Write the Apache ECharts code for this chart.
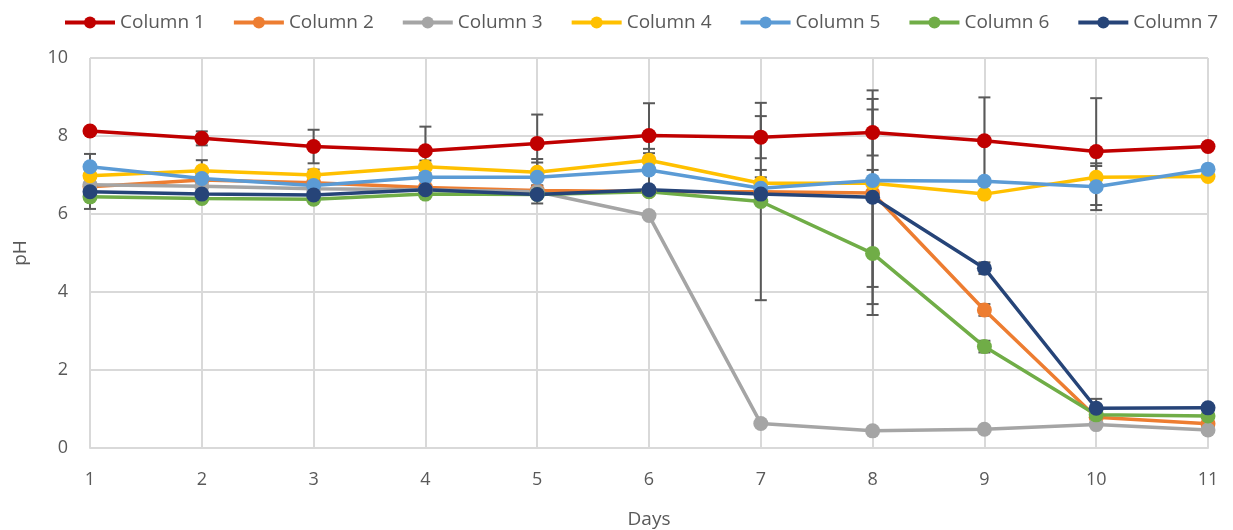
<!DOCTYPE html>
<html>
<head>
<meta charset="utf-8">
<script src="https://cdn.jsdelivr.net/npm/echarts@6/dist/echarts.min.js"></script>
<style>
  html, body { margin: 0; padding: 0; background: #fff; }
  #chart { width: 1233px; height: 530px; }
</style>
</head>
<body>
<div id="chart"></div>
<script>
// Sampling days
const days = [1, 2, 3, 4, 5, 6, 7, 8, 9, 10, 11];

// Series names and colours
const seriesNames = ['Column 1', 'Column 2', 'Column 3', 'Column 4', 'Column 5', 'Column 6', 'Column 7'];
const seriesColors = ['#C00000', '#ED7D31', '#A5A5A5', '#FFC000', '#5B9BD5', '#70AD47', '#264478'];

// Mean pH per day
const col1 = [8.13, 7.94, 7.73, 7.62, 7.81, 8.01, 7.97, 8.09, 7.88, 7.60, 7.73];
const col2 = [6.70, 6.87, 6.80, 6.68, 6.60, 6.58, 6.57, 6.54, 3.54, 0.79, 0.62];
const col3 = [6.75, 6.71, 6.65, 6.62, 6.57, 5.96, 0.63, 0.44, 0.48, 0.60, 0.46];
const col4 = [6.98, 7.11, 7.00, 7.21, 7.07, 7.38, 6.79, 6.79, 6.51, 6.94, 6.96];
const col5 = [7.21, 6.91, 6.73, 6.94, 6.94, 7.13, 6.66, 6.86, 6.84, 6.70, 7.15];
const col6 = [6.44, 6.40, 6.38, 6.51, 6.50, 6.57, 6.32, 4.99, 2.60, 0.85, 0.82];
const col7 = [6.57, 6.51, 6.49, 6.62, 6.50, 6.62, 6.51, 6.43, 4.61, 1.02, 1.03];

// Error bar half-widths (null = no bar)
const err1 = [null, 0.18, 0.43, 0.62, 0.74, 0.83, 0.54, 0.59, 1.11, 1.37, null];
const err2 = [null, null, null, null, null, null, null, 2.41, 0.15, null, null];
const err3 = [null, null, null, null, null, null, null, null, null, null, null];
const err4 = [null, 0.27, 0.14, 0.16, 0.34, 0.29, 0.34, 0.34, null, 0.29, null];
const err5 = [0.33, null, null, null, 0.38, 0.43, 0.28, null, null, 0.60, null];
const err6 = [0.31, null, null, null, null, null, 2.53, 1.58, 0.15, null, null];
const err7 = [null, null, null, null, 0.23, null, null, 2.74, 0.15, 0.24, null];

// Axis ticks
const yTicks = { min: 0, max: 10, interval: 2 };
const xTicks = { min: 1, max: 11, interval: 1 };

const means = [col1, col2, col3, col4, col5, col6, col7];
const errs = [err1, err2, err3, err4, err5, err6, err7];

const FONT = 'Open Sans';
const TEXT = '#595959';

const series = [];

// Error bars sit beneath the lines and markers
means.forEach((vals, s) => {
  const data = [];
  vals.forEach((v, i) => {
    const e = errs[s][i];
    if (e != null) data.push([days[i], v - e, v + e]);
  });
  if (!data.length) return;
  series.push({
    type: 'custom',
    name: seriesNames[s] + ' err',
    z: 1,
    silent: true,
    renderItem: function (params, api) {
      const x = api.value(0);
      const lo = api.coord([x, api.value(1)]);
      const hi = api.coord([x, api.value(2)]);
      const cap = 6;
      const style = { stroke: '#595959', lineWidth: 2, fill: null };
      return {
        type: 'group',
        children: [
          { type: 'line', shape: { x1: lo[0], y1: lo[1], x2: hi[0], y2: hi[1] }, style },
          { type: 'line', shape: { x1: lo[0] - cap, y1: lo[1], x2: lo[0] + cap, y2: lo[1] }, style },
          { type: 'line', shape: { x1: hi[0] - cap, y1: hi[1], x2: hi[0] + cap, y2: hi[1] }, style }
        ]
      };
    },
    encode: { x: 0, y: [1, 2] },
    data: data
  });
});

means.forEach((vals, s) => {
  series.push({
    type: 'line',
    name: seriesNames[s],
    z: 2,
    data: vals.map((v, i) => [days[i], v]),
    symbol: 'circle',
    symbolSize: 15,
    lineStyle: { color: seriesColors[s], width: 3.5 },
    itemStyle: { color: seriesColors[s] },
    emphasis: { disabled: true }
  });
});

const chart = echarts.init(document.getElementById('chart'), null, { renderer: 'canvas' });
chart.setOption({
  animation: false,
  backgroundColor: '#fff',
  legend: {
    data: seriesNames,
    top: 8,
    left: 58,
    itemWidth: 50,
    itemHeight: 15,
    itemGap: 27,
    lineStyle: { width: 4 },
    textStyle: { fontFamily: FONT, fontSize: 19, color: TEXT }
  },
  grid: { left: 90, right: 25, top: 58, bottom: 82, containLabel: false, outerBoundsMode: 'none' },
  xAxis: {
    type: 'value',
    min: xTicks.min,
    max: xTicks.max,
    interval: xTicks.interval,
    name: 'Days',
    nameLocation: 'middle',
    nameGap: 62,
    nameTextStyle: { fontFamily: FONT, fontSize: 19, color: TEXT },
    axisLine: { show: true, lineStyle: { color: '#d9d9d9', width: 2 } },
    axisTick: { show: false },
    splitLine: { show: true, lineStyle: { color: '#d9d9d9', width: 2 } },
    axisLabel: { fontFamily: FONT, fontSize: 18, color: TEXT, margin: 23 }
  },
  yAxis: {
    type: 'value',
    min: yTicks.min,
    max: yTicks.max,
    interval: yTicks.interval,
    name: 'pH',
    nameLocation: 'middle',
    nameGap: 60,
    nameRotate: 90,
    nameTextStyle: { fontFamily: FONT, fontSize: 19, color: TEXT },
    axisLine: { show: false },
    axisTick: { show: false },
    splitLine: { show: true, lineStyle: { color: '#d9d9d9', width: 2 } },
    axisLabel: { fontFamily: FONT, fontSize: 18, color: TEXT, margin: 22 }
  },
  series: series
});
</script>
</body>
</html>
